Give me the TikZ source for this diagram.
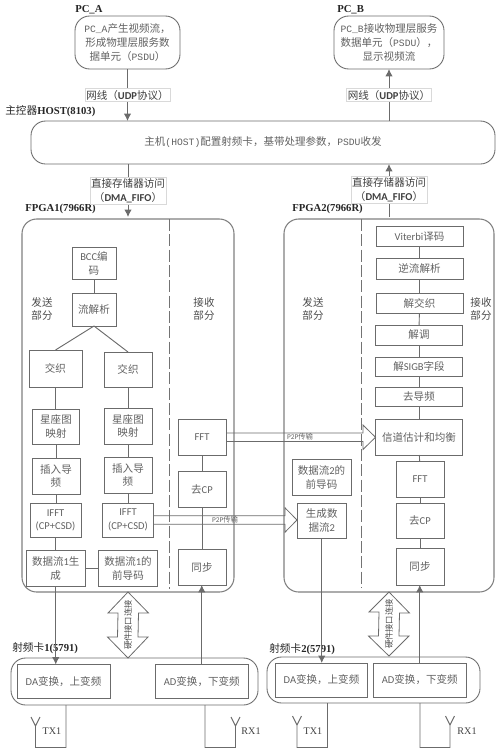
\documentclass[tikz,border=0pt]{standalone}
\usepackage{fontspec}
\setmainfont{Carlito}
\newfontfamily\cjk{Noto Sans CJK SC}
\newfontfamily\serf{Liberation Serif}
\newfontfamily\monf[Scale=0.92]{Liberation Mono}
\usetikzlibrary{arrows.meta,calc}
\newcommand{\zh}[1]{{\cjk #1}}
\newcommand{\bx}[7][]{%
  \pgfmathsetmacro{\bw}{(#5-#3)*0.75}%
  \pgfmathsetmacro{\bh}{(#6-#4)*0.75}%
  \node[boxstyle,minimum width=\bw pt,minimum height=\bh pt,#1] (#2) at ({(#3+#5)/2},{(#4+#6)/2}) {#7};}
\newcommand{\bigarrow}[7]{% name cx top headtop headbot bot text
  \node[hwtext] (#1) at (#2,{(#3+#6)/2}) {#7};
  \draw[frameline] (#2,#3) -- ++(20.5,21) -- ++(-10,0) -- (#2+10,#5) -- ++(10,0) -- (#2,#6)
     -- ++(-20.5,{#5-#6}) -- ++(10,0) -- (#2-10,#4) -- ++(-10,0) -- cycle;}
\tikzset{
  frameline/.style={draw=black!58,line width=0.6pt},
  boxstyle/.style={draw=black!58,line width=0.65pt,rectangle,inner sep=0pt,outer sep=0pt,align=center,text=black!62,
     font=\fontsize{7.9pt}{10.2pt}\selectfont},
  roundbox/.style={boxstyle,rounded corners=11pt},
  bigbox/.style={draw=black!50,line width=0.8pt,rectangle,rounded corners=11pt,inner sep=0pt,outer sep=0pt},
  linkline/.style={draw=black!58,line width=0.7pt},
  flowline/.style={linkline,-{Latex[length=5.5pt,width=5.5pt]}},
  lablbox/.style={fill=white,draw=black!15,line width=0.3pt,inner sep=1pt,align=center,text=black!75,
     font=\fontsize{7.9pt}{10.4pt}\selectfont},
  headlabel/.style={anchor=west,inner sep=0pt,text=black!85,font=\fontsize{8pt}{10pt}\selectfont},
  parttext/.style={inner sep=0pt,align=center,text=black!70,font=\fontsize{7.9pt}{10.4pt}\selectfont},
  tinytext/.style={inner sep=0pt,text=black!60,font=\fontsize{5.5pt}{6pt}\selectfont},
  hwtext/.style={inner sep=0pt,rotate=90,text=black!70,font=\fontsize{6.2pt}{7pt}\selectfont},
  anttext/.style={inner sep=0pt,text=black!75,font=\serf\fontsize{7.6pt}{9pt}\selectfont},
  dashline/.style={draw=black!55,line width=0.7pt,dash pattern=on 9pt off 2.5pt},
}
\begin{document}
\begin{tikzpicture}[x=0.75pt,y=-0.75pt]
\useasboundingbox (0,0) rectangle (500,750);
% head labels
\node[headlabel] (lpca) at (75,10) {\serf\bfseries PC\_A};
\node[headlabel] (lpcb) at (337,10) {\serf\bfseries PC\_B};
\node[headlabel] (lhost) at (5,111) {\zh{主控器}\serf\bfseries HOST(8103)};
\node[headlabel] (lf1) at (25,209) {\serf\bfseries FPGA1(7966R)};
\node[headlabel] (lf2) at (292,209) {\serf\bfseries FPGA2(7966R)};
\node[headlabel] (lrf1) at (12,648) {\zh{射频卡}\serf\bfseries 1(5791)};
\node[headlabel] (lrf2) at (269,649) {\zh{射频卡}\serf\bfseries 2(5791)};
% PC and host
\bx[roundbox]{pca}{75}{16}{180}{69}{{\monf PC\_A}\zh{产生视频流，}\\\zh{形成物理层服务数}\\\zh{据单元（}{\monf PSDU}\zh{）}}
\bx[roundbox]{pcb}{334}{16}{444}{69}{{\monf PC\_B}\zh{接收物理层服务}\\\zh{数据单元（}{\monf PSDU}\zh{），}\\\zh{显示视频流}}
\bx[roundbox]{host}{31}{121}{495}{164}{\zh{主机}{\monf(HOST)}\zh{配置射频卡，基带处理参数，}{\monf PSDU}\zh{收发}}
% FPGA containers
\bx[bigbox]{f1}{22}{219}{234}{592}{}
\bx[bigbox]{f2}{284}{219}{494}{592}{}
\coordinate (d1a) at (169,219); \coordinate (d1b) at (169,589);
\coordinate (d2a) at (361.5,219); \coordinate (d2b) at (361.5,588);
\draw[dashline] (d1a) -- (d1b);
\draw[dashline] (d2a) -- (d2b);
\node[parttext] (tx1p) at (42,309) {\zh{发送}\\\zh{部分}};
\node[parttext] (rx1p) at (204,309) {\zh{接收}\\\zh{部分}};
\node[parttext] (tx2p) at (313,309) {\zh{发送}\\\zh{部分}};
\node[parttext] (rx2p) at (481,309) {\zh{接收}\\\zh{部分}};
% FPGA1 boxes
\bx{bcc}{72}{247}{116}{279.5}{BCC\zh{编}\\\zh{码}}
\bx{parse}{72}{293}{116}{326}{\zh{流解析}}
\bx{il1}{29}{350}{82}{387}{\zh{交织}}
\bx{il2}{104}{352}{152}{387}{\zh{交织}}
\bx{map1}{32.5}{409}{79.5}{444}{\zh{星座图}\\\zh{映射}}
\bx{map2}{104}{408}{152}{444}{\zh{星座图}\\\zh{映射}}
\bx{pil1}{32}{458}{80}{494}{\zh{插入导}\\\zh{频}}
\bx{pil2}{104}{457}{152}{493}{\zh{插入导}\\\zh{频}}
\bx{ifft1}{30}{503.5}{81}{537}{IFFT\\(CP+CSD)}
\bx{ifft2}{102.5}{503}{153.5}{537}{IFFT\\(CP+CSD)}
\bx{gen1}{26.5}{550.5}{85}{586}{\zh{数据流}1\zh{生}\\\zh{成}}
\bx{pre1}{98.5}{550.5}{157.5}{586}{\zh{数据流}1\zh{的}\\\zh{前导码}}
\bx{fft1}{178}{419.5}{226}{455}{FFT}
\bx{cp1}{178}{471}{226}{507}{\zh{去}CP}
\bx{sync1}{178}{549.5}{226}{585}{\zh{同步}}
% FPGA2 boxes
\bx{vit}{376}{226.5}{463}{246.5}{Viterbi\zh{译码}}
\bx{dep}{376}{258.5}{463}{279}{\zh{逆流解析}}
\bx{dil}{376}{293.5}{463}{313.5}{\zh{解交织}}
\bx{dem}{375.5}{325}{462.5}{345}{\zh{解调}}
\bx{sig}{375.5}{357}{462.5}{376}{\zh{解}SIGB\zh{字段}}
\bx{rmp}{375.5}{387}{462.5}{406.5}{\zh{去导频}}
\bx{chest}{375.5}{419.5}{462.5}{455}{\zh{信道估计和均衡}}
\bx{fft2}{396}{461}{444}{497}{FFT}
\bx{cp2}{396}{503}{444}{538.5}{\zh{去}CP}
\bx{sync2}{396}{548}{444}{585}{\zh{同步}}
\bx{pre2}{292}{459.5}{351}{495}{\zh{数据流}2\zh{的}\\\zh{前导码}}
\bx{gen2}{297}{503}{346.5}{538.5}{\zh{生成数}\\\zh{据流}2}
% RF
\bx[roundbox]{rf1}{11}{658}{258}{705}{}
\bx[roundbox]{rf2}{267}{657}{480}{703}{}
\bx{da1}{17}{664.5}{110}{698.5}{DA\zh{变换，上变频}}
\bx{ad1}{155.5}{664.5}{248}{698.5}{AD\zh{变换，下变频}}
\bx{da2}{275.5}{663}{367.5}{697}{DA\zh{变换，上变频}}
\bx{ad2}{373.5}{663}{466}{697}{AD\zh{变换，下变频}}
% top connectors
\draw[flowline] (pca.south) -- node[lablbox] (l1) {\zh{网线（}\textbf{UDP}\zh{协议）}} (pca.south |- host.north);
\coordinate (b1) at (389,121);
\coordinate (b2) at (389,69);
\draw[flowline] (b1) -- node[lablbox] (l2) {\zh{网线（}\textbf{UDP}\zh{协议）}} (b2);
\coordinate (c1) at (128,164);
\coordinate (c2) at (128,217);
\draw[flowline] (c1) -- node[lablbox,pos=.5] (l3) {\zh{直接存储器访问}\\\zh{（}\textbf{DMA\_FIFO}\zh{）}} (c2);
\coordinate (c3) at (389,217);
\coordinate (c4) at (389,164);
\draw[flowline] (c3) -- node[lablbox,pos=.52] (l4) {\zh{直接存储器访问}\\\zh{（}\textbf{DMA\_FIFO}\zh{）}} (c4);
% FPGA1 links
\draw[linkline] (bcc) -- (parse);
\draw[linkline] (parse.south) -- (il1.north);
\draw[linkline] (parse.south) -- (il2.north);
\draw[linkline] (il1.south) -- (il1.south |- map1.north);
\draw[linkline] (il2) -- (map2);
\draw[linkline] (map1) -- (pil1);
\draw[linkline] (map2) -- (pil2);
\draw[linkline] (pil1.south) -- (pil1.south |- ifft1.north);
\draw[linkline] (pil2) -- (ifft2);
\draw[linkline] (ifft1.south) -- (ifft1.south |- gen1.north);
\draw[linkline] (gen1) -- (pre1);
\draw[linkline] (fft1) -- (cp1);
\draw[linkline] (cp1) -- (sync1);
% FPGA2 links
\draw[linkline] (vit) -- (dep);
\draw[linkline] (dep) -- (dil);
\draw[linkline] (dil) -- (dem);
\draw[linkline] (dem) -- (sig);
\draw[linkline] (sig) -- (rmp);
\draw[linkline] (rmp) -- (chest);
\draw[linkline] (chest) -- (fft2);
\draw[linkline] (fft2) -- (cp2);
\draw[linkline] (cp2) -- (sync2);
% to RF
\draw[flowline] (gen1.south) -- (gen1.south |- da1.north);
\draw[flowline] (ad1.north) -- (ad1.north |- sync1.south);
\draw[flowline] (gen2.south) -- (gen2.south |- da2.north);
\draw[flowline] (ad2.north) -- (ad2.north |- sync2.south);
% P2P block arrows
\draw[frameline] (fft1.east) ++(0,-4.2) -- ++(137,0) -- ++(0,-8) -- ++(12.5,12.2) -- ++(-12.5,12.2) -- ++(0,-8) -- ++(-137,0);
\draw[frameline] (ifft2.east) ++(0,-4.2) -- ++(131.5,0) -- ++(0,-8) -- ++(12,12.2) -- ++(-12,12.2) -- ++(0,-8) -- ++(-131.5,0);
\node[tinytext] (p2pa) at (300,437) {P2P\zh{传输}};
\node[tinytext] (p2pb) at (225,520) {P2P\zh{传输}};
% hardware arrows
\bigarrow{hw1}{128}{592}{613}{637}{658}{\zh{硬件接口连接}}
\bigarrow{hw2}{389}{592}{612}{636}{656}{\zh{硬件接口连接}}
% antennas
\coordinate (t1a) at (66,705);   \coordinate (t1b) at (66,747.5);   \coordinate (t1c) at (35.5,747.5);  \coordinate (t1d) at (35.5,726);
\coordinate (r1a) at (205,705);  \coordinate (r1b) at (205,747.5);  \coordinate (r1c) at (235.5,747.5); \coordinate (r1d) at (235.5,726);
\coordinate (t2a) at (327.5,703);\coordinate (t2b) at (327.5,747.5);\coordinate (t2c) at (297,747.5);   \coordinate (t2d) at (297,725);
\coordinate (r2a) at (420,703);  \coordinate (r2b) at (420,747.5);  \coordinate (r2c) at (450,747.5);   \coordinate (r2d) at (450,725);
\foreach \n in {t1,r1,t2,r2}{
  \draw[linkline] (\n a) -- (\n b) -- (\n c) -- (\n d) -- ++(-4.5,-9) (\n d) -- ++(4.5,-9);
}
\node[anttext] (tx1) at (52,731) {TX1};
\node[anttext] (rx1) at (251,731) {RX1};
\node[anttext] (tx2) at (313,731) {TX1};
\node[anttext] (rx2) at (467,731) {RX1};
\end{tikzpicture}
\end{document}
